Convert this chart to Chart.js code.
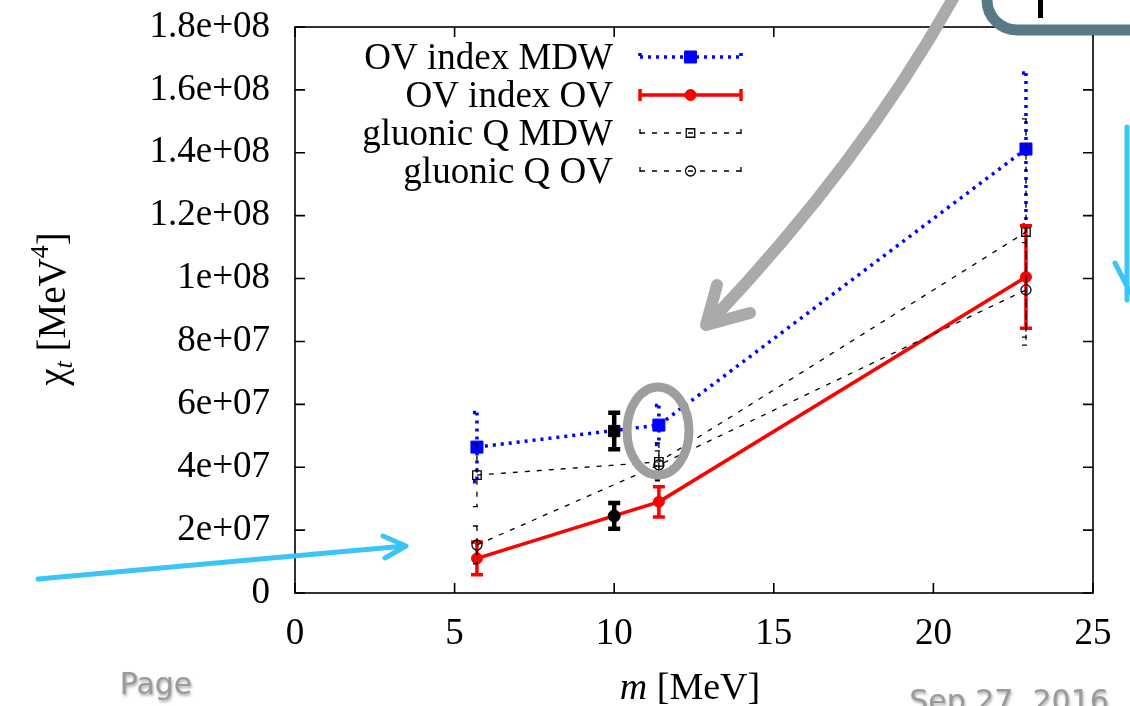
<!DOCTYPE html>
<html>
<head>
<meta charset="utf-8">
<script src="https://cdn.jsdelivr.net/npm/chart.js@4.4.1/dist/chart.umd.min.js"></script>
<style>
  html, body { margin: 0; padding: 0; background: #fff; }
  #wrap { width: 1130px; height: 706px; }
</style>
</head>
<body>
<div id="wrap"><canvas id="chart" width="1130" height="706"></canvas></div>
<script>
// values
const massValues = [5.7, 11.4, 22.9];
const ovIndexMdw = [4.64e7, 5.34e7, 14.12e7];
const ovIndexMdwErr = [1.1e7, 0.62e7, 2.42e7];
const ovIndexOv = [1.1e7, 2.9e7, 10.05e7];
const ovIndexOvErr = [0.52e7, 0.48e7, 1.63e7];
const gluonicMdw = [3.75e7, 4.17e7, 11.48e7];
const gluonicMdwErr = [1.0e7, 0.6e7, 3.6e7];
const gluonicOv = [1.53e7, 4.07e7, 9.64e7];
const gluonicOvErr = [0.6e7, 0.45e7, 1.5e7];
const extraMass = [10, 10];
const extraValues = [5.15e7, 2.45e7];
const extraErr = [0.58e7, 0.41e7];
const seriesLabels = ['OV index MDW', 'OV index OV', 'gluonic Q MDW', 'gluonic Q OV'];
const xTickLabels = ['0', '5', '10', '15', '20', '25'];
const yTickLabels = ['0', '2e+07', '4e+07', '6e+07', '8e+07', '1e+08', '1.2e+08', '1.4e+08', '1.6e+08', '1.8e+08'];

const serif = '"Liberation Serif", "Times New Roman", serif';

function points(xs, ys) {
  return xs.map((x, i) => ({ x: x, y: ys[i] }));
}

function noPadding(s) {
  s.paddingTop = 0;
  s.paddingBottom = 0;
  s.paddingLeft = 0;
  s.paddingRight = 0;
}

const errorBars = {
  id: 'errorBars',
  afterDatasetDraw(chart, args) {
    const ds = chart.data.datasets[args.index];
    if (!ds.errors) return;
    const ctx = chart.ctx;
    const yScale = chart.scales.y;
    const st = ds.errStyle;
    ctx.save();
    ctx.strokeStyle = st.color;
    ctx.lineWidth = st.width;
    ctx.setLineDash(st.dash || []);
    args.meta.data.forEach((pt, i) => {
      const v = ds.data[i].y;
      const top = yScale.getPixelForValue(v + ds.errors[i]);
      const bot = yScale.getPixelForValue(v - ds.errors[i]);
      ctx.beginPath();
      ctx.moveTo(pt.x, top);
      ctx.lineTo(pt.x, bot);
      ctx.moveTo(pt.x - st.cap, top);
      ctx.lineTo(pt.x + st.cap, top);
      ctx.moveTo(pt.x - st.cap, bot);
      ctx.lineTo(pt.x + st.cap, bot);
      ctx.stroke();
    });
    ctx.restore();
  }
};

const frame = {
  id: 'frame',
  beforeDatasetsDraw(chart) {
    const ctx = chart.ctx;
    const a = chart.chartArea;
    const xs = chart.scales.x, ys = chart.scales.y;
    ctx.save();
    ctx.strokeStyle = '#000';
    ctx.lineWidth = 1.6;
    ctx.strokeRect(a.left, a.top, a.right - a.left, a.bottom - a.top);
    ctx.beginPath();
    xs.ticks.forEach(t => {
      const px = xs.getPixelForValue(t.value);
      ctx.moveTo(px, a.bottom); ctx.lineTo(px, a.bottom - 10);
      ctx.moveTo(px, a.top); ctx.lineTo(px, a.top + 10);
    });
    ys.ticks.forEach(t => {
      const py = ys.getPixelForValue(t.value);
      ctx.moveTo(a.left, py); ctx.lineTo(a.left + 10, py);
      ctx.moveTo(a.right, py); ctx.lineTo(a.right - 10, py);
    });
    ctx.stroke();
    ctx.restore();
  },
  afterDraw(chart) {
    const ctx = chart.ctx;
    ctx.save();

    // legend, gnuplot style
    const rows = [57, 95, 133, 171];
    for (let i = 0; i < 4; i++) {
      const ds = chart.data.datasets[i];
      const y = rows[i];
      ctx.font = '37px ' + serif;
      ctx.fillStyle = '#000';
      ctx.textAlign = 'right';
      ctx.textBaseline = 'middle';
      ctx.fillText(ds.label, 613, y + 2);
      const x0 = 640, x1 = 741;
      ctx.strokeStyle = ds.borderColor;
      ctx.lineWidth = ds.borderWidth;
      ctx.setLineDash(ds.borderDash || []);
      ctx.beginPath();
      ctx.moveTo(x0, y); ctx.lineTo(x1, y);
      const c = ds.errStyle.cap;
      ctx.moveTo(x0, y - c); ctx.lineTo(x0, y + c);
      ctx.moveTo(x1, y - c); ctx.lineTo(x1, y + c);
      ctx.stroke();
      ctx.setLineDash([]);
      ctx.fillStyle = ds.pointBackgroundColor;
      ctx.strokeStyle = ds.pointBorderColor;
      ctx.lineWidth = ds.pointBorderWidth;
      Chart.helpers.drawPoint(ctx, {
        pointStyle: ds.pointStyle, radius: ds.pointRadius,
        borderWidth: ds.pointBorderWidth, rotation: 0
      }, (x0 + x1) / 2, y);
    }

    // y axis title: chi_t [MeV^4]
    ctx.save();
    ctx.translate(65, 309);
    ctx.rotate(-Math.PI / 2);
    ctx.fillStyle = '#000';
    ctx.textAlign = 'left';
    ctx.textBaseline = 'alphabetic';
    const parts = [
      { t: '\u03c7', f: '39px ' + serif, dy: 0 },
      { t: 't', f: 'italic 26px ' + serif, dy: 7 },
      { t: ' [MeV', f: '39px ' + serif, dy: 0 },
      { t: '4', f: '26px ' + serif, dy: -17 },
      { t: ']', f: '39px ' + serif, dy: 0 }
    ];
    let total = 0;
    parts.forEach(p => { ctx.font = p.f; p.w = ctx.measureText(p.t).width; total += p.w; });
    let cx = -total / 2;
    parts.forEach(p => { ctx.font = p.f; ctx.fillText(p.t, cx, p.dy); cx += p.w; });
    ctx.restore();

    // x axis title: m [MeV]
    ctx.fillStyle = '#000';
    ctx.textAlign = 'left';
    ctx.textBaseline = 'alphabetic';
    ctx.font = 'italic 38px ' + serif;
    const wm = ctx.measureText('m').width;
    ctx.font = '38px ' + serif;
    const wr = ctx.measureText(' [MeV]').width;
    let sx = 690 - (wm + wr) / 2;
    ctx.font = 'italic 38px ' + serif;
    ctx.fillText('m', sx, 699);
    ctx.font = '38px ' + serif;
    ctx.fillText(' [MeV]', sx + wm, 699);

    // slide annotations
    ctx.lineCap = 'round';
    ctx.lineJoin = 'round';
    ctx.strokeStyle = '#aaaaaa';
    ctx.lineWidth = 12;
    ctx.beginPath();
    ctx.moveTo(955, -5);
    ctx.quadraticCurveTo(862, 162, 710, 322);
    ctx.stroke();
    ctx.beginPath();
    ctx.moveTo(717, 285); ctx.lineTo(706, 325); ctx.lineTo(750, 313);
    ctx.stroke();

    ctx.lineWidth = 9;
    ctx.strokeStyle = '#9e9e9e';
    ctx.beginPath();
    ctx.ellipse(658, 431, 31, 44, 0, 0, Math.PI * 2);
    ctx.stroke();

    ctx.strokeStyle = '#3cc4f8';
    ctx.lineWidth = 5;
    ctx.beginPath();
    ctx.moveTo(38, 579); ctx.lineTo(405, 546);
    ctx.moveTo(383, 536); ctx.lineTo(406, 546); ctx.lineTo(385, 558);
    ctx.stroke();
    ctx.beginPath();
    ctx.moveTo(1127, 127); ctx.lineTo(1127, 300);
    ctx.moveTo(1115, 263); ctx.lineTo(1130, 292);
    ctx.stroke();

    ctx.strokeStyle = '#577a86';
    ctx.lineWidth = 11;
    ctx.lineCap = 'butt';
    ctx.beginPath();
    ctx.moveTo(987, -10);
    ctx.arcTo(987, 30, 1027, 30, 30);
    ctx.lineTo(1140, 30);
    ctx.stroke();
    ctx.fillStyle = '#000';
    ctx.fillRect(1038, 0, 5, 18);

    ctx.font = '30px "DejaVu Sans", sans-serif';
    ctx.fillStyle = '#9a9a9a';
    ctx.shadowColor = 'rgba(0,0,0,0.35)';
    ctx.shadowBlur = 3;
    ctx.shadowOffsetX = 1;
    ctx.shadowOffsetY = 2;
    ctx.textAlign = 'center';
    ctx.fillText('Page', 156, 694);
    ctx.fillText('Sep 27, 2016', 1009, 711);
    ctx.restore();
  }
};

const datasets = [
  {
    label: seriesLabels[0], data: points(massValues, ovIndexMdw), errors: ovIndexMdwErr,
    showLine: true, borderColor: '#0000ff', borderWidth: 3.5, borderDash: [3, 5],
    pointStyle: 'rect', pointRadius: 8.5, pointBackgroundColor: '#0000ff',
    pointBorderColor: '#0000ff', pointBorderWidth: 1, order: 5,
    errStyle: { color: '#0000ff', width: 3.5, cap: 4, dash: [3, 5] }
  },
  {
    label: seriesLabels[1], data: points(massValues, ovIndexOv), errors: ovIndexOvErr,
    showLine: true, borderColor: '#ff0000', borderWidth: 3.5,
    pointStyle: 'circle', pointRadius: 5.5, pointBackgroundColor: '#ff0000',
    pointBorderColor: '#ff0000', pointBorderWidth: 1, order: 4,
    errStyle: { color: '#ff0000', width: 3.5, cap: 6 }
  },
  {
    label: seriesLabels[2], data: points(massValues, gluonicMdw), errors: gluonicMdwErr,
    showLine: true, borderColor: '#000000', borderWidth: 1.3, borderDash: [5, 7],
    pointStyle: 'rect', pointRadius: 6, pointBackgroundColor: 'rgba(0,0,0,0)',
    pointBorderColor: '#000000', pointBorderWidth: 1.3, order: 3,
    errStyle: { color: '#000000', width: 1.3, cap: 4, dash: [5, 7] }
  },
  {
    label: seriesLabels[3], data: points(massValues, gluonicOv), errors: gluonicOvErr,
    showLine: true, borderColor: '#000000', borderWidth: 1.3, borderDash: [5, 7],
    pointStyle: 'circle', pointRadius: 5, pointBackgroundColor: 'rgba(0,0,0,0)',
    pointBorderColor: '#000000', pointBorderWidth: 1.3, order: 2,
    errStyle: { color: '#000000', width: 1.3, cap: 4, dash: [5, 7] }
  },
  {
    label: 'extra', data: points(extraMass, extraValues), errors: extraErr,
    showLine: false, pointStyle: ['rect', 'circle'], pointRadius: [8, 6],
    pointBackgroundColor: '#000000', pointBorderColor: '#000000', order: 1,
    errStyle: { color: '#000000', width: 4.5, cap: 6 }
  }
];

new Chart(document.getElementById('chart').getContext('2d'), {
  type: 'scatter',
  data: { datasets: datasets },
  options: {
    responsive: false,
    animation: false,
    devicePixelRatio: 1,
    layout: { padding: { top: 27, right: 37, left: 0, bottom: 0 } },
    scales: {
      x: {
        type: 'linear', min: 0, max: 25,
        afterFit: s => { s.height = 113; noPadding(s); },
        grid: { display: false, drawTicks: false },
        border: { display: false },
        ticks: {
          stepSize: 5, padding: 19, color: '#000',
          font: { family: serif, size: 37 },
          callback: (v, i) => xTickLabels[i]
        }
      },
      y: {
        type: 'linear', min: 0, max: 1.8e8,
        afterFit: s => { s.width = 295; noPadding(s); },
        grid: { display: false, drawTicks: false },
        border: { display: false },
        ticks: {
          stepSize: 2e7, padding: 25, color: '#000',
          font: { family: serif, size: 37 },
          callback: (v, i) => yTickLabels[i]
        }
      }
    },
    plugins: {
      legend: { display: false },
      title: { display: false },
      tooltip: { enabled: false }
    }
  },
  plugins: [errorBars, frame]
});
</script>
</body>
</html>
